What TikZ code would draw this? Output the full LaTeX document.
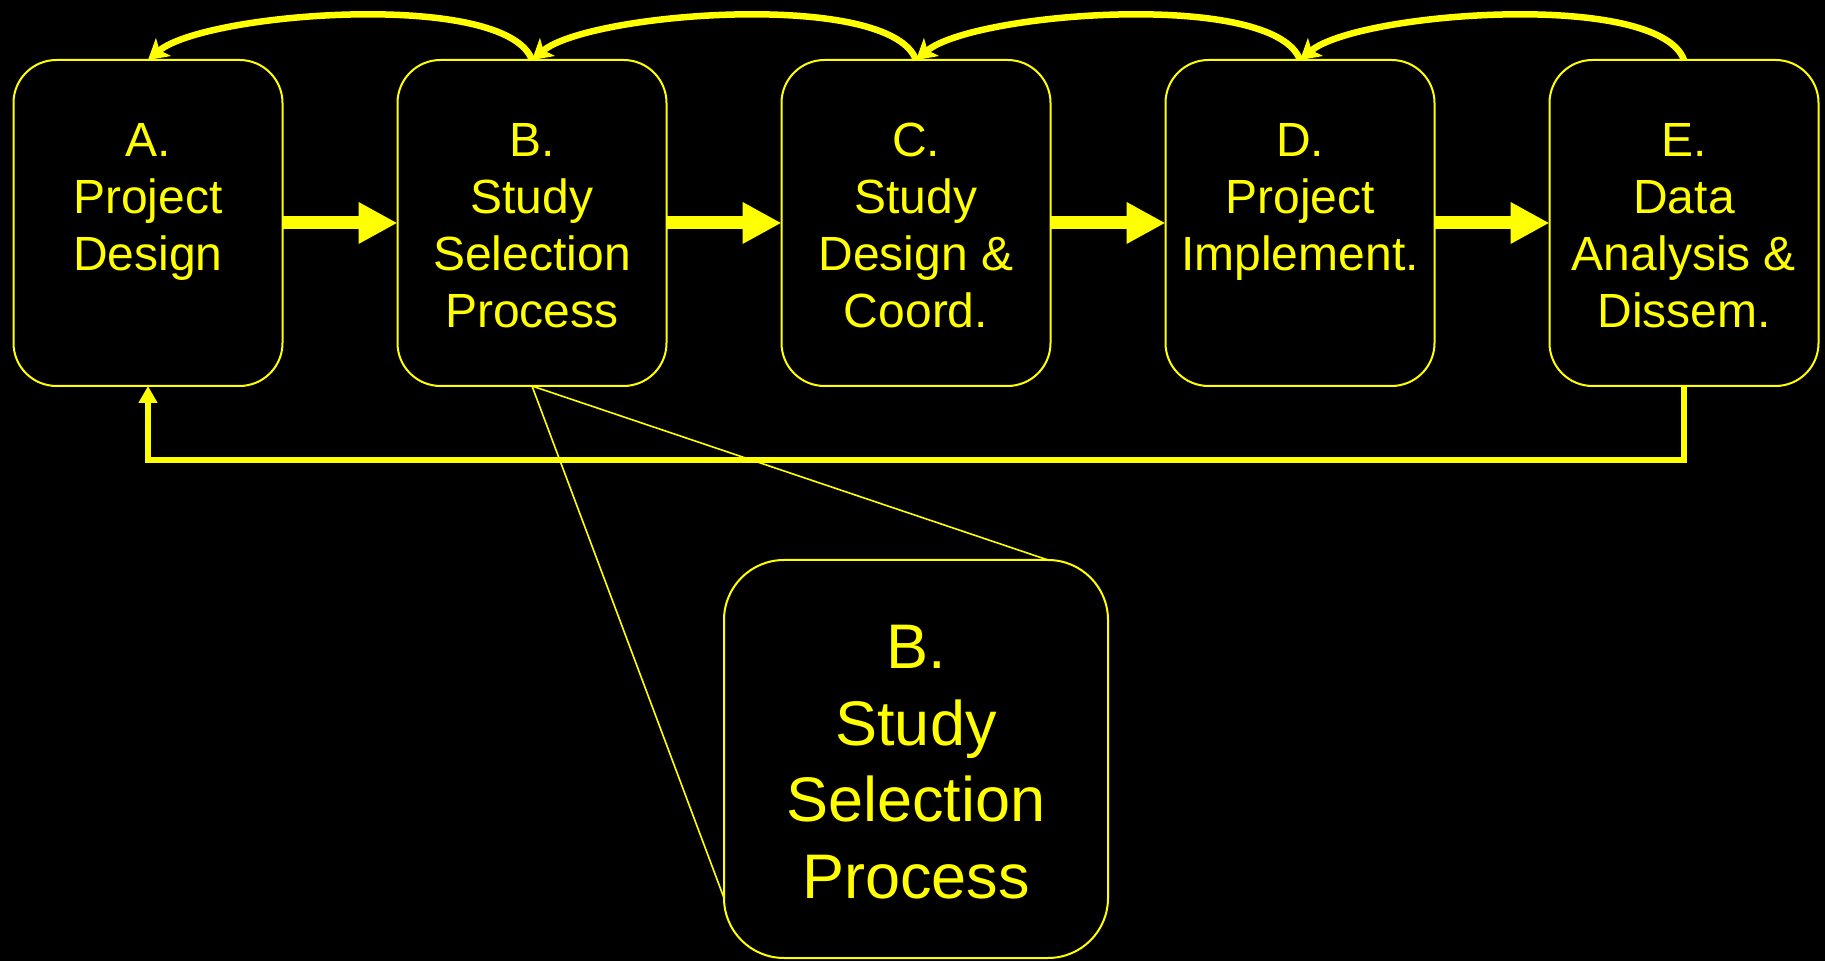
\documentclass[tikz,border=0pt]{standalone}
\usepackage{fontspec}
\setmainfont{Liberation Sans}
\usetikzlibrary{arrows.meta,positioning}
\definecolor{hi}{HTML}{FFFF00}
\tikzset{every picture/.style={x=1pt,y=1pt},
  stage/.style={draw=hi,line width=2pt,rounded corners=43pt,minimum width=269pt,minimum height=326pt,inner sep=0pt,outer sep=0pt},
  stagetext/.style={text=hi,align=center,inner sep=0pt,font=\fontsize{48}{57}\selectfont},
  zoomed/.style={draw=hi,line width=2pt,rounded corners=60pt,minimum width=384pt,minimum height=398pt,inner sep=0pt,outer sep=0pt},
  zoomtext/.style={text=hi,align=center,inner sep=0pt,font=\fontsize{63}{76.5}\selectfont},
  flow/.style={draw=hi,line width=13pt,-{Triangle[length=39pt,width=39pt]}},
  backarc/.style={draw=hi,line width=6.5pt,-{Stealth[length=20pt,width=23pt,inset=5pt]}},
  feedback/.style={draw=hi,line width=6pt,-{Triangle[length=17pt,width=18pt]}},
  zoomline/.style={draw=hi,line width=1.6pt}}

\begin{document}
\begin{tikzpicture}
  \fill [black] (0,0) rectangle (1825,961);
  \useasboundingbox (0,0) rectangle (1825,961);
  \node (A) [stage] at (148,738) {};
  \node (B) [stage] at (532,738) {};
  \node (C) [stage] at (916,738) {};
  \node (D) [stage] at (1300,738) {};
  \node (E) [stage] at (1684,738) {};
  \node (At) [stagetext, below=63pt of A.north] {A.\\Project\\Design};
  \node (Bt) [stagetext, below=63pt of B.north] {B.\\Study\\Selection\\Process};
  \node (Ct) [stagetext, below=63pt of C.north] {C.\\Study\\Design \&\\Coord.};
  \node (Dt) [stagetext, below=63pt of D.north] {D.\\Project\\Implement.};
  \node (Et) [stagetext, below=63pt of E.north] {E.\\Data\\Analysis \&\\Dissem.};
  \node (Z) [zoomed] at (916,202) {};
  \node (Zt) [zoomtext, below=65pt of Z.north] {B.\\Study\\Selection\\Process};
  \coordinate (Zne) at ([xshift=-60pt]Z.north east);
  \coordinate (Zsw) at ([yshift=60pt]Z.south west);
  \coordinate (low) at (0,501);
  \draw [flow] (A) -- (B);
  \draw [flow] (B) -- (C);
  \draw [flow] (C) -- (D);
  \draw [flow] (D) -- (E);
  \foreach \s/\t in {E/D,D/C,C/B,B/A}
    \draw [backarc] (\s.north) to[out=110,in=40,looseness=0.5] (\t.north);
  \draw [feedback] (E.south) -- (E.south |- low) -| (A.south);
  \draw [zoomline] (B.south) -- (Zne);
  \draw [zoomline] (B.south) -- (Zsw);
\end{tikzpicture}
\end{document}
